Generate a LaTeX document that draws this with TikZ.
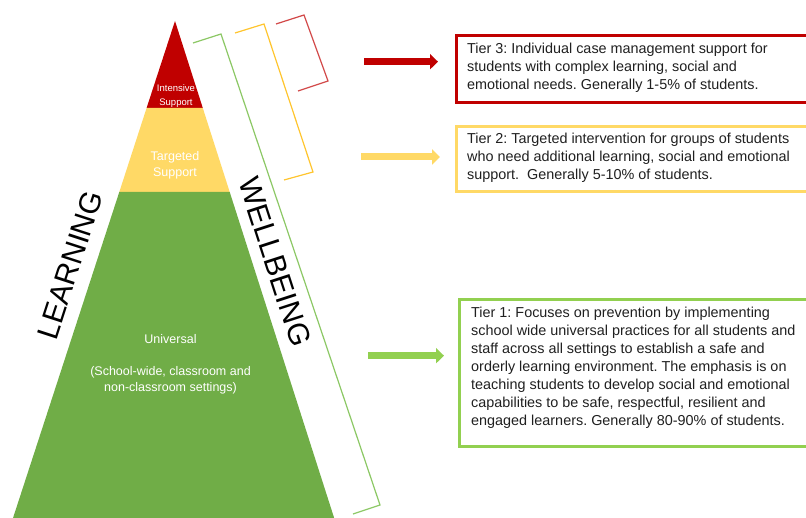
\documentclass[tikz,border=0pt]{standalone}
\usepackage{fontspec}
\setmainfont{Liberation Sans}
\usetikzlibrary{arrows.meta}
\definecolor{pred}{HTML}{C00000}
\definecolor{pyel}{HTML}{FFD966}
\definecolor{pgrn}{HTML}{70AD47}
\definecolor{bgrn}{HTML}{92D050}
\definecolor{brkred}{HTML}{D24848}
\definecolor{brkyel}{HTML}{FFC52E}
\definecolor{brkgrn}{HTML}{8CC865}
\definecolor{tiertext}{HTML}{202020}
\frenchspacing
\begin{document}
\begin{tikzpicture}[x=1pt,y=-1pt,
  tierlabel/.style={text=white, align=center, inner sep=0pt},
  sidelabel/.style={font=\fontsize{30}{30}\selectfont, inner sep=0pt},
  tierbox/.style={line width=3pt, inner sep=0pt, anchor=north west, fill=white},
  boxtext/.style={anchor=base west, inner sep=0pt, text=tiertext},
  bracket/.style={line width=1.2pt, line join=miter},
  fatarrow/.style={line width=7pt, -{Triangle[length=8pt,width=15pt]}}]
\useasboundingbox (0,0) rectangle (806,518);
\clip (0,0) rectangle (806,518);
\fill[white] (0,0) rectangle (806,518);

% pyramid
\coordinate (apex) at (175,21);
\coordinate (rl) at (146.6,108);
\coordinate (rr) at (202.8,108);
\coordinate (yl) at (119.3,192);
\coordinate (yr) at (229.7,192);
\coordinate (gl) at (9.1,530);
\coordinate (gr) at (338,530);
\fill[pred] (apex) -- (rr) -- (rl) -- cycle;
\fill[pyel] (rl) -- (rr) -- (yr) -- (yl) -- cycle;
\fill[pgrn] (yl) -- (yr) -- (gr) -- (gl) -- cycle;

\begin{scope}
\clip (apex) -- (rr) -- (rl) -- cycle;
\node[tierlabel, font=\fontsize{9.5}{14}\selectfont] (t3) at (176,96) {Intensive\\Support};
\end{scope}
\node[tierlabel, font=\fontsize{12.5}{16}\selectfont] (t2) at (175,165) {Targeted\\Support};
\node[tierlabel, font=\fontsize{12.5}{16}\selectfont] (t1) at (170.5,364.7) {Universal\\[16pt](School-wide, classroom and\\non-classroom settings)};

% side labels
\node[sidelabel, rotate=72] (learn) at (70,265) {LEARNING};
\node[sidelabel, rotate=-72] (well) at (275,262) {WELLBEING};

% brackets
\draw[bracket, brkgrn] (193,43) -- (221,34) -- (380,505) -- (353,514);
\draw[bracket, brkyel] (235,33) -- (264,24) -- (313,172) -- (284,180);
\draw[bracket, brkred] (276,24) -- (304,15) -- (328,81) -- (298,91);

% arrows
\coordinate (a3s) at (364,61.7);
\coordinate (a3e) at (438,61.7);
\coordinate (a2s) at (361,157);
\coordinate (a2e) at (440,157);
\coordinate (a1s) at (368,355.7);
\coordinate (a1e) at (444,355.7);
\draw[fatarrow, pred] (a3s) -- (a3e);
\draw[fatarrow, pyel] (a2s) -- (a2e);
\draw[fatarrow, bgrn] (a1s) -- (a1e);

% boxes
\node[tierbox, draw=pred, minimum width=400pt, minimum height=67pt] (b3) at (455,34) {};
\node[tierbox, draw=pyel, minimum width=400pt, minimum height=65pt] (b2) at (455,125) {};
\node[tierbox, draw=bgrn, minimum width=400pt, minimum height=147.3pt] (b1) at (458,297.7) {};

\node[boxtext] (x3) at (467,54) {\parbox[t]{340pt}{\fontsize{14.4}{18}\selectfont\raggedright
Tier 3: Individual case management support for\\
students with complex learning, social and\\
emotional needs. Generally 1-5\% of students.}};
\node[boxtext] (x2) at (467,144) {\parbox[t]{340pt}{\fontsize{14.4}{18}\selectfont\raggedright
Tier 2: Targeted intervention for groups of students\\
who need additional learning, social and emotional\\
support.\ \ Generally 5-10\% of students.}};
\node[boxtext] (x1) at (471,318) {\parbox[t]{340pt}{\fontsize{14.4}{18}\selectfont\raggedright
Tier 1: Focuses on prevention by implementing\\
school wide universal practices for all students and\\
staff across all settings to establish a safe and\\
orderly learning environment. The emphasis is on\\
teaching students to develop social and emotional\\
capabilities to be safe, respectful, resilient and\\
engaged learners. Generally 80-90\% of students.}};
\end{tikzpicture}
\end{document}
